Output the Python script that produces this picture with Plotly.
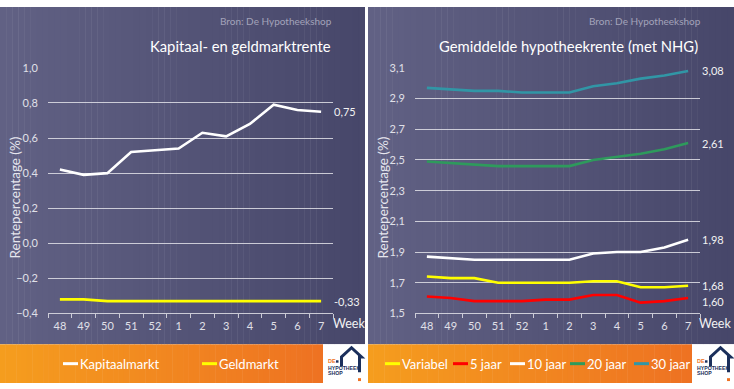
import plotly.graph_objects as go

W, H = 734, 389

weeks = ["48", "49", "50", "51", "52", "1", "2", "3", "4", "5", "6", "7"]

kapitaalmarkt = [0.42, 0.39, 0.40, 0.52, 0.53, 0.54, 0.63, 0.61, 0.68, 0.79, 0.76, 0.75]
geldmarkt = [-0.32, -0.32, -0.33, -0.33, -0.33, -0.33, -0.33, -0.33, -0.33, -0.33, -0.33, -0.33]

variabel = [1.74, 1.73, 1.73, 1.70, 1.70, 1.70, 1.70, 1.71, 1.71, 1.67, 1.67, 1.68]
jaar5 = [1.61, 1.60, 1.58, 1.58, 1.58, 1.59, 1.59, 1.62, 1.62, 1.57, 1.58, 1.60]
jaar10 = [1.87, 1.86, 1.85, 1.85, 1.85, 1.85, 1.85, 1.89, 1.90, 1.90, 1.93, 1.98]
jaar20 = [2.49, 2.48, 2.47, 2.46, 2.46, 2.46, 2.46, 2.50, 2.52, 2.54, 2.57, 2.61]
jaar30 = [2.97, 2.96, 2.95, 2.95, 2.94, 2.94, 2.94, 2.98, 3.00, 3.03, 3.05, 3.08]

left_series = [("Kapitaalmarkt", kapitaalmarkt, "#FFFFFF"), ("Geldmarkt", geldmarkt, "#FFFF00")]
right_series = [("Variabel", variabel, "#FFFF00"), ("5 jaar", jaar5, "#FF0000"),
                ("10 jaar", jaar10, "#FFFFFF"), ("20 jaar", jaar20, "#2E9A5C"),
                ("30 jaar", jaar30, "#3196A6")]

left_title = "Kapitaal- en geldmarktrente"
right_title = "Gemiddelde hypotheekrente (met NHG)"
source_text = "Bron: De Hypotheekshop"
ytitle = "Rentepercentage (%)"

FONT = "Lato"


def px(x):
    return x / W


def py(y):
    return 1 - y / H


def hexrgb(h):
    h = h.lstrip("#")
    return tuple(int(h[i:i + 2], 16) for i in (0, 2, 4))


def mix(c1, c2, t):
    a, b = hexrgb(c1), hexrgb(c2)
    return "rgb(%d,%d,%d)" % tuple(round(a[i] + (b[i] - a[i]) * t) for i in range(3))


fig = go.Figure()

for name, vals, col in left_series:
    fig.add_trace(go.Scatter(x=weeks, y=vals, mode="lines", name=name,
                             line=dict(color=col, width=2.6), xaxis="x", yaxis="y",
                             showlegend=False, hoverinfo="skip"))
for name, vals, col in right_series:
    fig.add_trace(go.Scatter(x=weeks, y=vals, mode="lines", name=name,
                             line=dict(color=col, width=2.6), xaxis="x2", yaxis="y2",
                             showlegend=False, hoverinfo="skip"))

shapes = []
annotations = []

# background gradients
panels = [(0, 365, 323), (368, 734, 692)]
N = 60
for (x0, x1, ox1) in panels:
    for i in range(N):
        a = x0 + (x1 - x0) * i / N
        b = x0 + (x1 - x0) * (i + 1) / N + 0.5
        shapes.append(dict(type="rect", xref="paper", yref="paper", x0=px(a), x1=px(min(b, x1)),
                           y0=py(349), y1=py(0), fillcolor=mix("#616184", "#47476A", i / (N - 1)),
                           line=dict(width=0), layer="below"))
    for i in range(N):
        a = x0 + (ox1 - x0) * i / N
        b = x0 + (ox1 - x0) * (i + 1) / N + 0.5
        shapes.append(dict(type="rect", xref="paper", yref="paper", x0=px(a), x1=px(min(b, ox1)),
                           y0=py(H), y1=py(349), fillcolor=mix("#F59D1E", "#EE7222", i / (N - 1)),
                           line=dict(width=0), layer="below"))
    # logo box
    shapes.append(dict(type="rect", xref="paper", yref="paper", x0=px(ox1), x1=px(x1),
                       y0=py(H), y1=py(349), fillcolor="#FFFFFF", line=dict(width=0), layer="below"))
    # house outline
    L = ox1
    T = 349
    path = "M %f,%f L %f,%f L %f,%f L %f,%f L %f,%f L %f,%f" % (
        px(L + 18.5), py(T + 23), px(L + 18.5), py(T + 13), px(L + 28.5), py(T + 3.5),
        px(L + 38.5), py(T + 13), px(L + 36.5), py(T + 13), px(L + 36.5), py(T + 29))
    shapes.append(dict(type="path", xref="paper", yref="paper", path=path,
                       line=dict(color="#1B2F5B", width=3), layer="above"))
    shapes.append(dict(type="rect", xref="paper", yref="paper", x0=px(L + 35), x1=px(L + 38),
                       y0=py(T + 38), y1=py(T + 35), fillcolor="#EE7222", line=dict(width=0)))
    shapes.append(dict(type="rect", xref="paper", yref="paper", x0=px(L + 13), x1=px(L + 15.5),
                       y0=py(T + 19), y1=py(T + 16.5), fillcolor="#1B2F5B", line=dict(width=0)))
    annotations.append(dict(xref="paper", yref="paper", x=px(L + 3), y=py(T + 17.5), text="<b>DE</b>",
                            showarrow=False, xanchor="left", yanchor="middle",
                            font=dict(family="Liberation Sans", size=5.5, color="#EE7222")))
    annotations.append(dict(xref="paper", yref="paper", x=px(L + 3), y=py(T + 24), text="<b>HYPOTHEEK</b>",
                            showarrow=False, xanchor="left", yanchor="middle",
                            font=dict(family="Liberation Sans", size=5.2, color="#1B2F5B")))
    annotations.append(dict(xref="paper", yref="paper", x=px(L + 3), y=py(T + 30), text="<b>SHOP</b>",
                            showarrow=False, xanchor="left", yanchor="middle",
                            font=dict(family="Liberation Sans", size=5.2, color="#1B2F5B")))

# titles and source
for xr, title in [(333, left_title), (700, right_title)]:
    annotations.append(dict(xref="paper", yref="paper", x=px(xr), y=py(40), text=title, showarrow=False,
                            xanchor="right", yanchor="middle",
                            font=dict(family=FONT, size=14.8, color="#FFFFFF")))
for xr in (334, 703):
    annotations.append(dict(xref="paper", yref="paper", x=px(xr), y=py(14), text=source_text,
                            showarrow=False, xanchor="right", yanchor="middle",
                            font=dict(family=FONT, size=10, color="#A3A3BA")))
# y titles
for xc in (15, 383):
    annotations.append(dict(xref="paper", yref="paper", x=px(xc), y=py(197), text=ytitle, showarrow=False,
                            textangle=-90, xanchor="center", yanchor="middle",
                            font=dict(family=FONT, size=13.5, color="#E6E6EE")))
# Week labels
for xl in (331, 697):
    annotations.append(dict(xref="paper", yref="paper", x=px(xl), y=py(327), text="Week", showarrow=False,
                            xanchor="left", yanchor="middle",
                            font=dict(family=FONT, size=12.5, color="#F2F2F2")))


def fmt(v):
    return ("%.2f" % v).replace(".", ",")


last = len(weeks) - 1
# end-value labels
for name, vals, col in left_series:
    annotations.append(dict(xref="x", yref="y", x=last, y=vals[-1], text=fmt(vals[-1]),
                            showarrow=False, xanchor="left", yanchor="middle", xshift=11,
                            font=dict(family=FONT, size=11, color="#F2F2F2")))
for name, vals, col in right_series:
    ys = -3 if name == "5 jaar" else 0
    annotations.append(dict(xref="x2", yref="y2", x=last, y=vals[-1], text=fmt(vals[-1]),
                            showarrow=False, xanchor="left", yanchor="middle", xshift=12, yshift=ys,
                            font=dict(family=FONT, size=11, color="#F2F2F2")))

# legends
left_leg = [63, 202]
right_leg = [385, 453, 510, 570, 634]
for (name, vals, col), lx in list(zip(left_series, left_leg)) + list(zip(right_series, right_leg)):
    shapes.append(dict(type="line", xref="paper", yref="paper", x0=px(lx), x1=px(lx + 15),
                       y0=py(369), y1=py(369), line=dict(color=col, width=3)))
    annotations.append(dict(xref="paper", yref="paper", x=px(lx + 15), y=py(369), text=name,
                            showarrow=False, xanchor="left", yanchor="middle",
                            font=dict(family=FONT, size=13, color="#FFFFFF")))

grid = "rgba(225,225,232,0.85)"
tickfont = dict(family=FONT, size=11, color="#E0E0E8")

xcommon = dict(type="category", showgrid=False, zeroline=False, showline=True, linecolor=grid,
               linewidth=1, ticks="outside", tickson="boundaries", ticklen=4, tickcolor=grid,
               tickfont=tickfont, ticklabelstandoff=2, range=[-0.5, 11.5], fixedrange=True)
ycommon = dict(showgrid=True, gridcolor=grid, gridwidth=1, zeroline=False, showline=False,
               ticks="outside", ticklen=7, tickcolor="rgba(0,0,0,0)", tickfont=tickfont,
               tickformat=".1f", fixedrange=True)

fig.update_layout(
    width=W, height=H, autosize=False,
    margin=dict(l=0, r=0, t=0, b=0),
    paper_bgcolor="#FFFFFF", plot_bgcolor="rgba(0,0,0,0)",
    separators=",.",
    showlegend=False,
    xaxis=dict(domain=[px(48), px(333)], anchor="y", **xcommon),
    yaxis=dict(domain=[py(317), py(63)], anchor="x", range=[-0.4, 1.0], dtick=0.2, tick0=0, **ycommon),
    xaxis2=dict(domain=[px(415), px(700)], anchor="y2", **xcommon),
    yaxis2=dict(domain=[py(317), py(63)], anchor="x2", range=[1.5, 3.1], dtick=0.2, tick0=1.5, **ycommon),
    shapes=shapes,
    annotations=annotations,
)

fig.write_html("out.html", config={"displayModeBar": False},
               post_script="document.body.style.margin='0px';document.body.style.overflow='hidden';")
